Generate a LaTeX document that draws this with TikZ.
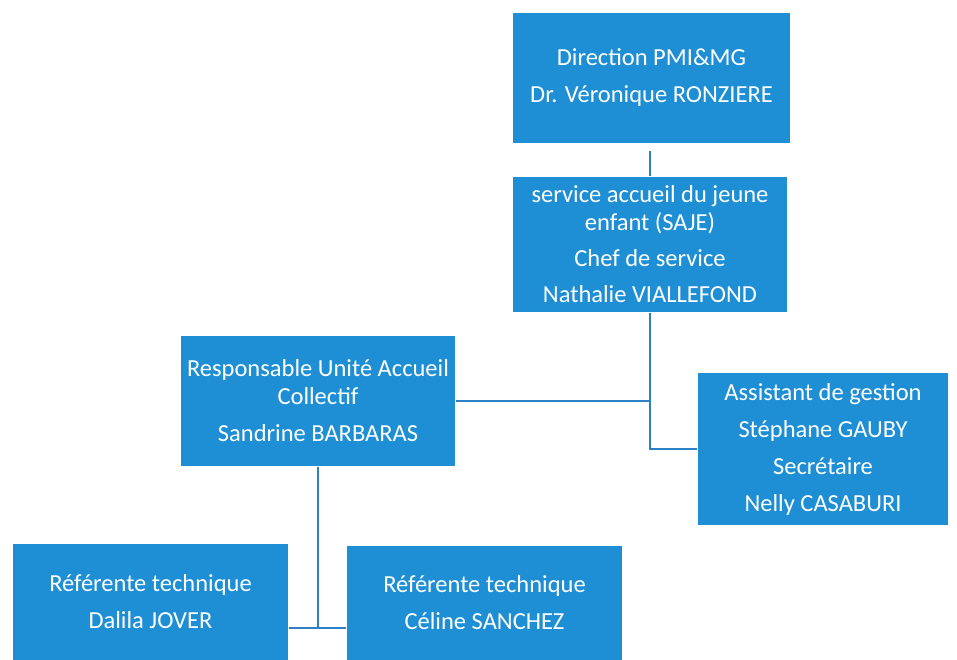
\documentclass[tikz,border=0pt]{standalone}
\usepackage{fontspec}
\setmainfont{Carlito}
\usepackage{tikz}

\definecolor{boxblue}{RGB}{30,143,213}
\definecolor{lineblue}{RGB}{45,128,198}

\begin{document}
\begin{tikzpicture}[
                    x=1pt,
                    y=-1pt,
                    line width=1.4pt,
                    draw=lineblue
                ]
                \tikzstyle{box}=[rectangle,fill=boxblue,text=white,align=center,inner sep=0pt,
                                 font=\fontsize{24.5}{28}\selectfont]

                \useasboundingbox (0,0) rectangle (957,660);

                \node[box,minimum width=277,minimum height=130] (dir) at (651.5,78)
                    {Direction PMI\&MG\\[9pt]Dr. Véronique RONZIERE};
                \node[box,minimum width=274,minimum height=135] (saje) at (650,244.5)
                    {service accueil du jeune\\enfant (SAJE)\\[8pt]Chef de service\\[8pt]Nathalie VIALLEFOND};
                \node[box,minimum width=274,minimum height=130] (resp) at (318,401)
                    {Responsable Unité Accueil\\Collectif\\[9pt]Sandrine BARBARAS};
                \node[box,minimum width=250,minimum height=152] (asst) at (823,449)
                    {Assistant de gestion\\[9pt]Stéphane GAUBY\\[9pt]Secrétaire\\[9pt]Nelly CASABURI};
                \node[box,minimum width=275,minimum height=116] (dal) at (150.5,602)
                    {Référente technique\\[9pt]Dalila JOVER};
                \node[box,minimum width=275,minimum height=114] (cel) at (484.5,603)
                    {Référente technique\\[9pt]Céline SANCHEZ};

                \coordinate (fork) at (318,628);

                \draw[lineblue,shorten <=7pt] (saje.north |- dir.south) -- (saje.north);
                \draw[lineblue] (saje.south) |- (asst.west);
                \draw[lineblue] (resp.east) -- (resp.east -| saje.south);
                \draw[lineblue] (resp.south) -- (fork);
                \draw[lineblue] (dal.east |- fork) -- (cel.west |- fork);

            \end{tikzpicture}
\end{document}
